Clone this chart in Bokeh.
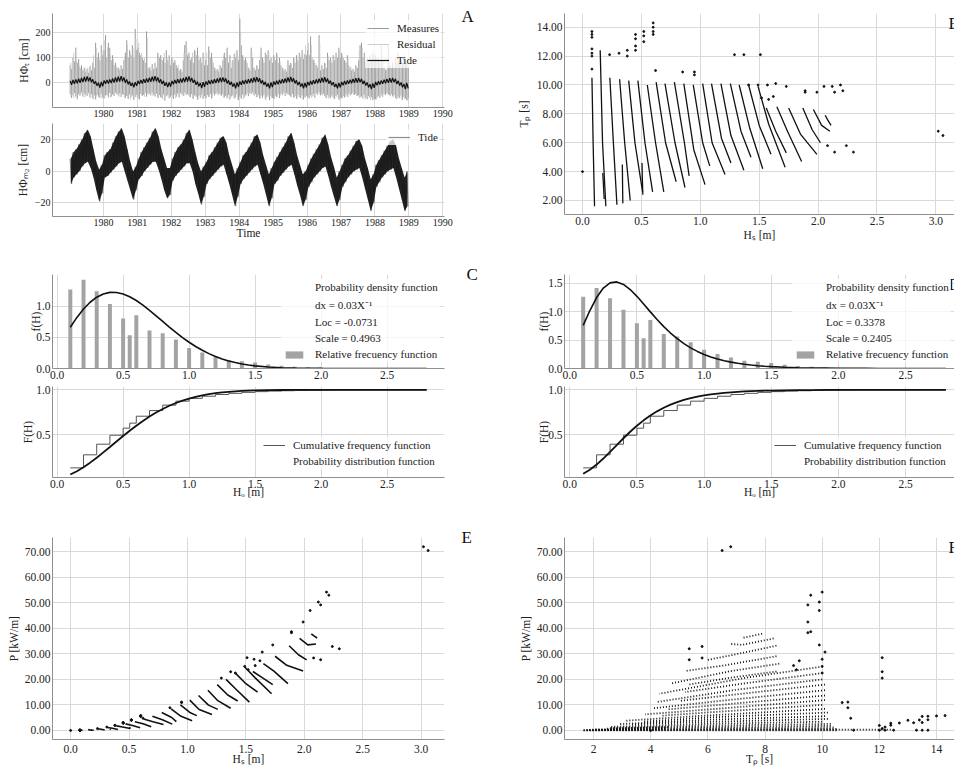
import numpy as np
from bokeh.plotting import figure
from bokeh.models import (Range1d, Label, Legend, LegendItem, FixedTicker, LinearAxis,
                          NumeralTickFormatter, CustomJSTickFormatter)
from bokeh.layouts import row, column
from bokeh.embed import file_html
from bokeh.resources import INLINE

FONT = "Liberation Serif"
GRID = "#d9d9d9"
TXT = "#222222"

# ---------------- Panel A : sea level series (1979-1989) ----------------
year_ticks = [1980, 1981, 1982, 1983, 1984, 1985, 1986, 1987, 1988, 1989, 1990]
start_year = 1979
# tide envelope, one high / low value per month
tide_hi = [8, 12, 14, 17, 20, 24, 26, 22, 14, 6, 1, 4,
           10, 12, 14, 18, 22, 25, 27, 22, 14, 6, 0, 3,
           8, 12, 15, 18, 21, 25, 27, 22, 14, 8, 2, 2,
           8, 12, 15, 17, 20, 24, 26, 20, 12, 5, 0, 3,
           6, 10, 12, 15, 18, 21, 22, 18, 10, 4, -2, 2,
           6, 10, 12, 15, 18, 22, 23, 18, 10, 4, -2, 2,
           6, 9, 12, 15, 18, 22, 24, 18, 10, 4, -2, 0,
           4, 8, 11, 14, 17, 21, 23, 17, 9, 3, -4, 0,
           4, 8, 10, 13, 16, 19, 20, 16, 8, 2, -5, -2,
           4, 7, 10, 13, 16, 19, 20, 16, 8, 2, -4, 0]
tide_lo = [-8, -4, -2, 0, 3, 5, 6, 2, -4, -12, -19, -14,
           -4, -3, -1, 1, 3, 5, 6, 0, -6, -12, -18, -12,
           -5, -3, 0, 2, 4, 6, 6, 1, -5, -12, -17, -15,
           -6, -3, -1, 1, 3, 5, 5, 0, -8, -14, -21, -16,
           -8, -5, -3, -1, 1, 3, 4, -2, -8, -15, -22, -16,
           -8, -5, -3, -1, 1, 3, 4, -2, -8, -15, -22, -17,
           -8, -6, -3, -1, 1, 3, 4, -2, -9, -15, -22, -18,
           -10, -7, -4, -2, 0, 2, 3, -3, -10, -16, -22, -18,
           -10, -7, -4, -2, 0, 1, 2, -4, -11, -18, -25, -20,
           -10, -7, -4, -2, 0, 1, 2, -4, -11, -18, -25, -22]
# measured level, high / low every half month
meas_hi = [70, 55, 100, 85, 140, 80, 95, 60, 70, 50, 60, 45, 55, 40, 65, 50, 80, 60, 160, 100, 120, 90, 150, 110,
           130, 190, 100, 160, 140, 90, 110, 70, 80, 60, 60, 50, 70, 55, 90, 120, 170, 100, 130, 110, 150, 100, 215, 130,
           140, 120, 110, 100, 90, 80, 205, 60, 60, 50, 75, 55, 80, 60, 120, 100, 110, 90, 100, 80, 130, 90, 110, 70,
           100, 80, 90, 70, 60, 50, 55, 45, 90, 150, 165, 110, 120, 90, 100, 80, 130, 110, 140, 90, 100, 80, 120, 70,
           90, 70, 145, 100, 120, 80, 60, 50, 55, 45, 70, 60, 90, 120, 100, 140, 80, 110, 60, 90, 115, 100, 130, 90,
           255, 150, 110, 90, 100, 80, 60, 50, 140, 100, 60, 50, 70, 55, 90, 140, 100, 80, 120, 110, 130, 90, 100, 80,
           110, 90, 120, 80, 100, 70, 60, 50, 55, 45, 90, 70, 80, 60, 100, 80, 110, 90, 120, 100, 130, 95, 115, 110,
           130, 110, 185, 100, 90, 80, 70, 60, 190, 50, 70, 55, 80, 60, 120, 90, 100, 80, 110, 90, 120, 100, 140, 100,
           120, 100, 90, 80, 110, 70, 60, 50, 55, 45, 70, 60, 90, 150, 160, 100, 120, 90, 100, 80, 110, 90, 120, 100,
           110, 90, 100, 80, 150, 90, 60, 50, 55, 150, 70, 60, 80, 60, 100, 80, 120, 90, 100, 80, 110, 90, 80, 60]
meas_lo = [-45, -60, -50, -40, -55, -65, -45, -50, -38, -55, -42, -48, -52, -40, -58, -45, -62, -50, -66, -48, -55, -60, -44, -58,
           -62, -50, -48, -58, -40, -55, -46, -52, -38, -44, -50, -42, -56, -45, -48, -60, -52, -64, -46, -58, -50, -68, -55, -47,
           -58, -66, -44, -52, -48, -40, -55, -45, -42, -50, -38, -47, -54, -43, -60, -49, -57, -62, -45, -70, -52, -48, -61, -55,
           -50, -64, -47, -55, -42, -58, -40, -46, -52, -39, -48, -44, -50, -57, -45, -63, -49, -55, -67, -51, -59, -46, -64, -53,
           -60, -48, -56, -45, -62, -41, -50, -44, -39, -47, -43, -51, -46, -58, -52, -61, -48, -66, -54, -49, -62, -57, -45, -68,
           -55, -63, -46, -58, -49, -42, -53, -40, -45, -38, -50, -44, -57, -48, -62, -51, -59, -47, -65, -56, -50, -69, -54, -60,
           -64, -51, -57, -45, -60, -43, -48, -39, -52, -41, -46, -49, -55, -44, -58, -53, -63, -47, -56, -61, -50, -66, -58, -52,
           -57, -62, -49, -54, -44, -59, -41, -47, -38, -50, -45, -43, -52, -60, -48, -55, -61, -50, -58, -64, -53, -47, -66, -59,
           -61, -53, -58, -46, -55, -42, -50, -45, -40, -48, -44, -52, -49, -57, -54, -62, -47, -59, -65, -52, -60, -56, -68, -63,
           -66, -58, -52, -60, -47, -55, -43, -49, -41, -46, -50, -45, -53, -48, -59, -64, -55, -61, -50, -67, -57, -63, -70, -62]
# meteorological residual, high / low per month
resid_hi = [80, 120, 90, 70, 55, 60, 60, 70, 110, 140, 100, 130,
            170, 140, 110, 95, 70, 60, 65, 100, 150, 120, 140, 175,
            160, 120, 100, 180, 65, 60, 70, 110, 95, 120, 100, 90,
            95, 80, 70, 55, 120, 140, 100, 120, 125, 110, 95, 100,
            120, 130, 95, 60, 55, 65, 110, 125, 100, 85, 120, 110,
            200, 100, 90, 60, 120, 55, 65, 120, 90, 115, 120, 95,
            100, 110, 85, 60, 55, 80, 75, 95, 100, 110, 115, 150,
            160, 150, 95, 70, 160, 60, 75, 105, 90, 100, 110, 125,
            110, 85, 100, 65, 55, 65, 130, 140, 110, 90, 100, 110,
            100, 90, 130, 60, 110, 65, 75, 90, 105, 90, 100, 70]
resid_lo = [-55, -62, -48, -52, -45, -58, -50, -60, -66, -54, -57, -63,
            -60, -52, -58, -47, -44, -55, -49, -62, -57, -68, -53, -59,
            -64, -50, -56, -46, -48, -53, -45, -61, -58, -70, -55, -60,
            -57, -61, -49, -44, -52, -47, -55, -63, -50, -67, -59, -62,
            -62, -55, -58, -43, -47, -51, -60, -56, -66, -54, -63, -69,
            -59, -64, -50, -45, -42, -53, -57, -62, -52, -70, -58, -61,
            -63, -57, -54, -41, -49, -46, -56, -60, -65, -53, -67, -59,
            -58, -60, -52, -44, -46, -50, -59, -64, -55, -62, -57, -68,
            -62, -56, -57, -45, -48, -52, -61, -58, -66, -60, -69, -65,
            -67, -59, -55, -47, -43, -54, -58, -63, -61, -68, -64, -70]

# ---------------- Panels C / D : wave height distribution ----------------
bar_h = [0.1, 0.2, 0.3, 0.4, 0.5, 0.55, 0.6, 0.7, 0.8, 0.9, 1.0, 1.1, 1.2, 1.3, 1.4,
         1.5, 1.6, 1.7, 1.8, 1.9, 2.0, 2.1, 2.2, 2.3, 2.4, 2.5, 2.6, 2.7, 2.8]
bar_freq = [1.266, 1.42, 1.239, 1.035, 0.80, 0.534, 0.854, 0.609, 0.566, 0.465, 0.33, 0.256,
            0.192, 0.138, 0.117, 0.096, 0.064, 0.045, 0.03, 0.02, 0.015, 0.01, 0.008, 0.005,
            0.004, 0.003, 0.002, 0.002, 0.001]
cum_freq = [0.133, 0.278, 0.396, 0.496, 0.574, 0.630, 0.707, 0.770, 0.830, 0.874, 0.905, 0.929,
            0.948, 0.961, 0.972, 0.980, 0.986, 0.990, 0.993, 0.995, 0.997, 0.998, 0.998, 0.999,
            0.999, 0.999, 1.0, 1.0, 1.0]
curve_h = [0.10, 0.15, 0.20, 0.25, 0.30, 0.35, 0.40, 0.45, 0.50, 0.55, 0.60, 0.65, 0.70, 0.75,
           0.80, 0.85, 0.90, 0.95, 1.00, 1.05, 1.10, 1.15, 1.20, 1.25, 1.30, 1.35, 1.40, 1.45,
           1.50, 1.60, 1.70, 1.80, 1.90, 2.00, 2.10, 2.20, 2.30, 2.40, 2.50, 2.60, 2.70, 2.80]
pdf_c = [0.6613, 0.8187, 0.9530, 1.0613, 1.1419, 1.1944, 1.2195, 1.2186, 1.1945, 1.1502, 1.0894,
         1.0157, 0.9329, 0.8447, 0.7543, 0.6645, 0.5779, 0.4961, 0.4206, 0.3523, 0.2914, 0.2383,
         0.1925, 0.1537, 0.1214, 0.0947, 0.0731, 0.0557, 0.0420, 0.0232, 0.0122, 0.0061, 0.0029,
         0.0013, 0.0005, 0.0002, 0.0001, 0.0, 0.0, 0.0, 0.0, 0.0]
cdf_c = [0.0590, 0.0961, 0.1405, 0.1910, 0.2462, 0.3047, 0.3651, 0.4262, 0.4866, 0.5453, 0.6013,
         0.6540, 0.7028, 0.7472, 0.7872, 0.8227, 0.8537, 0.8806, 0.9034, 0.9227, 0.9388, 0.9520,
         0.9628, 0.9714, 0.9782, 0.9836, 0.9878, 0.9910, 0.9934, 0.9966, 0.9983, 0.9992, 0.9996,
         0.9998, 0.9999, 1.0, 1.0, 1.0, 1.0, 1.0, 1.0, 1.0]
pdf_d = [0.7603, 1.0228, 1.2518, 1.4184, 1.5099, 1.5278, 1.4834, 1.3929, 1.2728, 1.1376, 0.9987,
         0.8640, 0.7387, 0.6257, 0.5257, 0.4388, 0.3645, 0.3015, 0.2485, 0.2043, 0.1676, 0.1372,
         0.1121, 0.0916, 0.0747, 0.0609, 0.0496, 0.0404, 0.0329, 0.0217, 0.0144, 0.0095, 0.0063,
         0.0041, 0.0027, 0.0018, 0.0012, 0.0008, 0.0005, 0.0003, 0.0002, 0.0001]
cdf_d = [0.0680, 0.1127, 0.1698, 0.2368, 0.3103, 0.3866, 0.4620, 0.5341, 0.6009, 0.6611, 0.7145,
         0.7610, 0.8011, 0.8351, 0.8639, 0.8879, 0.9080, 0.9246, 0.9383, 0.9496, 0.9588, 0.9664,
         0.9726, 0.9777, 0.9819, 0.9852, 0.9880, 0.9902, 0.9921, 0.9948, 0.9965, 0.9977, 0.9985,
         0.9990, 0.9993, 0.9996, 0.9997, 0.9998, 0.9999, 0.9999, 1.0, 1.0]

# ---------------- Panels B / E / F : sea states (Hs, Tp, P) ----------------
strand_hs = [[0.080, 0.090, 0.102], [0.150, 0.170, 0.198], [0.232, 0.262, 0.292],
             [0.315, 0.358, 0.405], [0.392, 0.445, 0.510], [0.470, 0.530, 0.595],
             [0.550, 0.620, 0.690], [0.625, 0.705, 0.795], [0.700, 0.785, 0.870],
             [0.780, 0.865, 0.905], [0.860, 0.945, 1.040], [0.940, 1.020, 1.080],
             [1.020, 1.100, 1.210], [1.095, 1.180, 1.260], [1.175, 1.260, 1.370],
             [1.255, 1.345, 1.430], [1.330, 1.420, 1.530], [1.410, 1.500, 1.600],
             [1.490, 1.580, 1.720], [1.560, 1.640, 1.730], [1.650, 1.740, 1.860],
             [1.750, 1.850, 1.990], [1.870, 1.950, 2.020], [1.960, 2.030, 2.100],
             [2.060, 2.080, 2.110], [0.172, 0.178, 0.184], [0.338, 0.340, 0.342],
             [0.505, 0.508, 0.512]]
strand_tp = [[10.5, 6.0, 1.6], [12.4, 6.0, 1.6], [10.5, 6.0, 1.7], [10.4, 6.0, 2.0],
             [10.3, 6.0, 2.6], [10.3, 6.0, 2.6], [10.0, 6.0, 2.6], [10.2, 6.0, 3.3],
             [10.1, 6.0, 2.9], [10.2, 6.0, 3.7], [10.1, 5.5, 3.1], [10.0, 6.0, 4.4],
             [10.1, 6.0, 3.8], [10.1, 6.3, 4.6], [10.1, 6.5, 4.1], [10.1, 6.8, 5.0],
             [10.0, 7.0, 4.2], [10.0, 7.2, 5.2], [9.9, 7.3, 4.3], [8.4, 6.8, 5.3],
             [8.5, 6.8, 4.7], [8.4, 6.6, 5.2], [8.4, 6.9, 6.0], [8.3, 7.2, 6.8],
             [7.9, 7.6, 7.2], [3.9, 3.0, 2.1], [4.5, 3.1, 1.8], [4.6, 3.5, 2.4]]
strand_p = [[0.076, 0.055, 0.019], [0.315, 0.196, 0.071], [0.639, 0.465, 0.164],
            [1.166, 0.869, 0.371], [1.789, 1.343, 0.764], [2.571, 1.905, 1.040],
            [3.418, 2.606, 1.399], [4.502, 3.370, 2.357], [5.592, 4.178, 2.480],
            [7.013, 5.073, 3.424], [8.441, 5.550, 3.789], [9.985, 7.054, 5.800],
            [11.874, 8.204, 6.287], [13.685, 9.912, 8.252], [15.757, 11.661, 8.696],
            [17.976, 13.900, 11.550], [19.990, 15.950, 11.110], [22.470, 18.310, 15.040],
            [24.840, 20.590, 14.370], [23.100, 20.670, 17.920], [26.150, 23.260, 18.370],
            [29.070, 25.520, 23.270], [33.190, 29.650, 27.660], [36.030, 33.530, 33.890],
            [37.880, 37.160, 36.220], [0.130, 0.107, 0.080], [0.581, 0.405, 0.238],
            [1.326, 1.020, 0.711]]
pts_hs = [0.00, 0.08, 0.08, 0.08, 0.08, 0.08, 0.08, 0.08, 0.23, 0.31, 0.38, 0.38,
          0.45, 0.45, 0.45, 0.45, 0.52, 0.52, 0.52, 0.60, 0.60, 0.60, 0.60, 0.62, 0.85,
          0.95, 0.95, 1.29, 1.37, 1.51, 1.41, 1.49, 1.57, 1.64, 1.73, 2.05, 2.12, 2.19,
          1.89, 1.89, 1.99, 2.14, 2.21, 1.52, 1.58, 1.62, 2.08, 2.14, 2.24, 2.30, 3.02, 3.06]
pts_tp = [4.0, 13.7, 13.5, 13.3, 12.5, 12.2, 12.0, 11.1, 12.1, 12.2, 12.4, 12.0,
          13.5, 13.2, 12.7, 12.4, 13.7, 13.4, 13.0, 14.3, 14.0, 13.7, 13.5, 11.0, 10.9,
          10.9, 10.7, 12.1, 12.1, 12.1, 10.0, 10.0, 10.0, 10.1, 9.9, 9.9, 9.9, 10.0,
          9.6, 9.5, 9.5, 9.5, 9.6, 9.1, 9.0, 9.2, 5.8, 5.35, 5.8, 5.35, 6.8, 6.5]
pts_p = [0.0, 0.099, 0.098, 0.096, 0.090, 0.088, 0.087, 0.080, 0.723, 1.325, 2.023, 1.958,
         3.089, 3.021, 2.906, 2.837, 4.186, 4.094, 3.972, 5.817, 5.695, 5.573, 5.492, 4.778, 8.899,
         11.116, 10.912, 20.5, 23.0, 28.5, 22.5, 25.1, 27.9, 30.7, 33.5, 47.0, 50.3, 54.2,
         38.7, 38.3, 42.5, 49.2, 53.0, 23.8, 25.4, 27.3, 28.4, 27.7, 32.9, 32.0, 72.0, 70.5]


# ---------------- helpers ----------------
def mk(w, h, xr, yr, bl, br, bt, bb):
    p = figure(width=w, height=h, x_range=Range1d(*xr), y_range=Range1d(*yr),
               output_backend="svg", toolbar_location=None,
               min_border_left=bl, min_border_right=br, min_border_top=bt, min_border_bottom=bb)
    p.outline_line_color = None
    p.background_fill_color = "white"
    p.border_fill_color = "white"
    p.grid.grid_line_color = GRID
    p.grid.grid_line_width = 1
    return p


def style_axes(p, xticks, yticks, tick_size="11.5px", xfmt=None, yfmt=None,
               xlab=None, ylab=None, xstand=0, ystand=2, xlstand=2):
    for ax in p.axis:
        ax.axis_line_color = "#8f8f8f"
        ax.axis_line_width = 1
        ax.major_tick_line_color = None
        ax.minor_tick_line_color = None
        ax.major_tick_out = 0
        ax.major_tick_in = 0
        ax.major_label_standoff = 2
        ax.major_label_text_font = FONT
        ax.major_label_text_font_size = tick_size
        ax.major_label_text_color = TXT
        ax.axis_label_text_font = FONT
        ax.axis_label_text_font_size = "11.5px"
        ax.axis_label_text_font_style = "normal"
        ax.axis_label_text_color = TXT
    p.xaxis.major_label_standoff = xlstand
    p.xaxis.ticker = FixedTicker(ticks=xticks)
    p.yaxis.ticker = FixedTicker(ticks=yticks)
    p.xgrid.ticker = FixedTicker(ticks=xticks)
    p.ygrid.ticker = FixedTicker(ticks=yticks)
    if xfmt is not None:
        p.xaxis.formatter = xfmt
    if yfmt is not None:
        p.yaxis.formatter = yfmt
    if xlab is not None:
        p.xaxis.axis_label = xlab
        p.xaxis.axis_label_standoff = xstand
    if ylab is not None:
        p.yaxis.axis_label = ylab
        p.yaxis.axis_label_standoff = ystand


def add_legend(p, items, x, y, glyph_h=12, standoff=8):
    leg = Legend(items=items, location=(x, y), orientation="vertical",
                 label_text_font=FONT, label_text_font_size="11px", label_text_color=TXT,
                 glyph_width=22, glyph_height=glyph_h, label_height=12,
                 label_standoff=standoff, spacing=4, padding=2, margin=0,
                 background_fill_color="white", background_fill_alpha=0.75,
                 border_line_alpha=0)
    p.add_layout(leg)


def letter_outside(p, txt, yval, standoff):
    # panel letter shown in the right border, as the label of a blank axis
    p.extra_y_ranges = {"lbl": Range1d(0, 1)}
    ax = LinearAxis(y_range_name="lbl", ticker=FixedTicker(ticks=[yval]),
                    major_label_overrides={yval: txt}, axis_line_color=None,
                    major_tick_line_color=None, minor_tick_line_color=None,
                    major_tick_out=0, major_tick_in=0, minor_tick_out=0,
                    major_label_standoff=standoff, major_label_text_font=FONT,
                    major_label_text_font_size="17px", major_label_text_color="#111111")
    p.add_layout(ax, "right")


def letter_inside(p, txt, x, y):
    p.add_layout(Label(x=x, y=y, x_units="screen", y_units="screen", text=txt,
                       text_font=FONT, text_font_size="17px", text_color="#111111",
                       text_baseline="top", text_align="left"))


minus_fmt = CustomJSTickFormatter(code="return (tick < 0 ? '\u2212' : '') + Math.abs(tick).toFixed(0);")

# time coordinates of the samples (decimal years)
n_month = len(tide_hi)
t_month = [start_year + i / 12.0 for i in range(n_month)]
t_mid = [t + 0.5 / 12.0 for t in t_month]
t_half = [start_year + (k + 0.5) / 24.0 for k in range(len(meas_hi))]
tide_x, tide_y = [], []
for i in range(n_month):
    tide_x += [t_month[i] + 0.25 / 12.0, t_month[i] + 0.75 / 12.0]
    tide_y += [tide_hi[i], tide_lo[i]]

LW, RW = 480, 474

# ---------------- Panel A (top) ----------------
pA1 = mk(LW, 122, (1978.5, 1990.05), (-98, 276), 52, 32, 13, 15)
style_axes(pA1, year_ticks, [0, 100, 200], tick_size="10px",
           xfmt=NumeralTickFormatter(format="0"), yfmt=minus_fmt,
           ylab="HΦₜ [cm]", ystand=3)
rM = pA1.segment(x0=t_half, y0=meas_lo, x1=t_half, y1=meas_hi, line_color="#999999", line_width=1)
rR = pA1.segment(x0=t_mid, y0=resid_lo, x1=t_mid, y1=resid_hi, line_color="#c9c9c9", line_width=1, line_alpha=0.9)
rT = pA1.line(tide_x, tide_y, line_color="#111111", line_width=1.2)
add_legend(pA1, [LegendItem(label="Measures", renderers=[rM]),
                 LegendItem(label="Residual", renderers=[rR]),
                 LegendItem(label="Tide", renderers=[rT])], 313, 39)
letter_outside(pA1, "A", 0.97, 17)

# ---------------- Panel A (bottom) ----------------
pA2 = mk(LW, 124, (1978.5, 1990.05), (-28.5, 30), 52, 32, 1, 30)
style_axes(pA2, year_ticks, [-20, 0, 20], tick_size="10px",
           xfmt=NumeralTickFormatter(format="0"), yfmt=minus_fmt,
           xlab="Time", ylab="HΦₘ₂ [cm]", xstand=-2, ystand=3)
rT2 = pA2.line(tide_x, tide_y, line_color="#8c8c8c", line_width=1.2)
pA2.varea(x=t_mid, y1=tide_lo, y2=tide_hi, fill_color="#111111", fill_alpha=0.92)
add_legend(pA2, [LegendItem(label="Tide", renderers=[rT2])], 334, 71)

# ---------------- Panel C ----------------
xt_h = [0.0, 0.5, 1.0, 1.5, 2.0, 2.5]
pC1 = mk(LW, 138, (-0.035, 2.935), (0, 1.506), 52, 32, 28, 16)
style_axes(pC1, xt_h, [0.0, 0.5, 1.0], xfmt=NumeralTickFormatter(format="0.0"),
           yfmt=NumeralTickFormatter(format="0.0"), ylab="f(H)", ystand=-9)
rb = pC1.vbar(x=bar_h, top=bar_freq, width=0.03, fill_color="#a3a3a3", line_color=None)
pC1.line(curve_h, pdf_c, line_color="#111111", line_width=1.6)
rdot = pC1.scatter([], [], size=2.5, color="#111111")
rblank = pC1.scatter([], [], size=1, fill_alpha=0, line_alpha=0)
add_legend(pC1, [LegendItem(label="Probability density function", renderers=[rdot]),
                 LegendItem(label="dx = 0.03X⁻¹", renderers=[rblank]),
                 LegendItem(label="Loc = -0.0731", renderers=[rblank]),
                 LegendItem(label="Scale = 0.4963", renderers=[rblank]),
                 LegendItem(label="Relative frecuency function", renderers=[rb])],
           229, 6, glyph_h=9, standoff=10)
letter_outside(pC1, "C", 0.999, 22)

pC2 = mk(LW, 123, (-0.035, 2.935), (0.026, 1.037), 52, 32, 2, 30)
style_axes(pC2, xt_h, [0.5, 1.0], xfmt=NumeralTickFormatter(format="0.0"),
           yfmt=NumeralTickFormatter(format="0.0"), xlab="Hₒ [m]", ylab="F(H)",
           xstand=-5, ystand=-1)
rs = pC2.step(bar_h, cum_freq, mode="after", line_color="#555555", line_width=1)
pC2.line(curve_h, cdf_c, line_color="#111111", line_width=1.8)
rdot2 = pC2.scatter([], [], size=2.5, color="#111111")
add_legend(pC2, [LegendItem(label="Cumulative frequency function", renderers=[rs]),
                 LegendItem(label="Probability distribution function", renderers=[rdot2])],
           209, 8)

# ---------------- Panel E ----------------
pE = mk(LW, 260, (-0.155, 3.2), (-3.55, 75.6), 52, 32, 30, 28)
style_axes(pE, [0.0, 0.5, 1.0, 1.5, 2.0, 2.5, 3.0], [0, 10, 20, 30, 40, 50, 60, 70],
           xfmt=NumeralTickFormatter(format="0.0"), yfmt=NumeralTickFormatter(format="0.00"),
           xlab="Hₛ [m]", ylab="P [kW/m]", xstand=-3, ystand=2, xlstand=5)
pE.multi_line(xs=strand_hs, ys=strand_p, line_color="#111111", line_width=1.6)
pE.scatter(pts_hs, pts_p, size=2.0, color="#111111")
letter_outside(pE, "E", 0.999, 17)

# ---------------- Panel B ----------------
pB = mk(RW, 244, (-0.153, 3.158), (1.03, 14.95), 84, 0, 13, 30)
style_axes(pB, [0.0, 0.5, 1.0, 1.5, 2.0, 2.5, 3.0], [2, 4, 6, 8, 10, 12, 14],
           xfmt=NumeralTickFormatter(format="0.0"), yfmt=NumeralTickFormatter(format="0.00"),
           xlab="Hₛ [m]", ylab="Tₚ [s]", xstand=1, ystand=4)
pB.multi_line(xs=strand_hs, ys=strand_tp, line_color="#111111", line_width=1.3)
pB.scatter(pts_hs, pts_tp, size=1.9, color="#111111")
letter_inside(pB, "B", 384, 201)

# ---------------- Panel D ----------------
pD1 = mk(RW, 140, (-0.039, 2.864), (0, 1.658), 84, 0, 30, 16)
style_axes(pD1, xt_h, [0.0, 0.5, 1.0, 1.5], xfmt=NumeralTickFormatter(format="0.0"),
           yfmt=NumeralTickFormatter(format="0.0"), ylab="f(H)", ystand=-5)
rbD = pD1.vbar(x=bar_h, top=bar_freq, width=0.03, fill_color="#a3a3a3", line_color=None)
pD1.line(curve_h, pdf_d, line_color="#111111", line_width=1.6)
rdotD = pD1.scatter([], [], size=2.5, color="#111111")
rblankD = pD1.scatter([], [], size=1, fill_alpha=0, line_alpha=0)
add_legend(pD1, [LegendItem(label="Probability density function", renderers=[rdotD]),
                 LegendItem(label="dx = 0.03X⁻¹", renderers=[rblankD]),
                 LegendItem(label="Loc = 0.3378", renderers=[rblankD]),
                 LegendItem(label="Scale = 0.2405", renderers=[rblankD]),
                 LegendItem(label="Relative frecuency function", renderers=[rbD])],
           228, 6, glyph_h=9, standoff=10)
letter_inside(pD1, "D", 384, 94)

pD2 = mk(RW, 123, (-0.039, 2.864), (0.026, 1.037), 84, 0, 2, 30)
style_axes(pD2, xt_h, [0.5, 1.0], xfmt=NumeralTickFormatter(format="0.0"),
           yfmt=NumeralTickFormatter(format="0.0"), xlab="Hₒ [m]", ylab="F(H)",
           xstand=-5, ystand=-5)
rsD = pD2.step(bar_h, cum_freq, mode="after", line_color="#555555", line_width=1)
pD2.line(curve_h, cdf_d, line_color="#111111", line_width=1.8)
rdotD2 = pD2.scatter([], [], size=2.5, color="#111111")
add_legend(pD2, [LegendItem(label="Cumulative frequency function", renderers=[rsD]),
                 LegendItem(label="Probability distribution function", renderers=[rdotD2])],
           208, 8)

# ---------------- Panel F ----------------
pF = mk(RW, 260, (0.985, 14.63), (-3.55, 75.6), 84, 0, 30, 28)
style_axes(pF, [2, 4, 6, 8, 10, 12, 14], [0, 10, 20, 30, 40, 50, 60, 70],
           xfmt=NumeralTickFormatter(format="0"), yfmt=NumeralTickFormatter(format="0.00"),
           xlab="Tₚ [s]", ylab="P [kW/m]", xstand=-3, ystand=2, xlstand=5)
pF.multi_line(xs=strand_tp, ys=strand_p, line_color="#111111", line_width=1.8, line_dash="1 2")
pF.scatter(pts_tp, pts_p, size=2.0, color="#111111")
letter_inside(pF, "F", 384, 202)

left = column(pA1, pA2, pC1, pC2, pE)
right = column(pB, pD1, pD2, pF)
layout = row(left, right)

open("out.html", "w").write(file_html(layout, INLINE))
